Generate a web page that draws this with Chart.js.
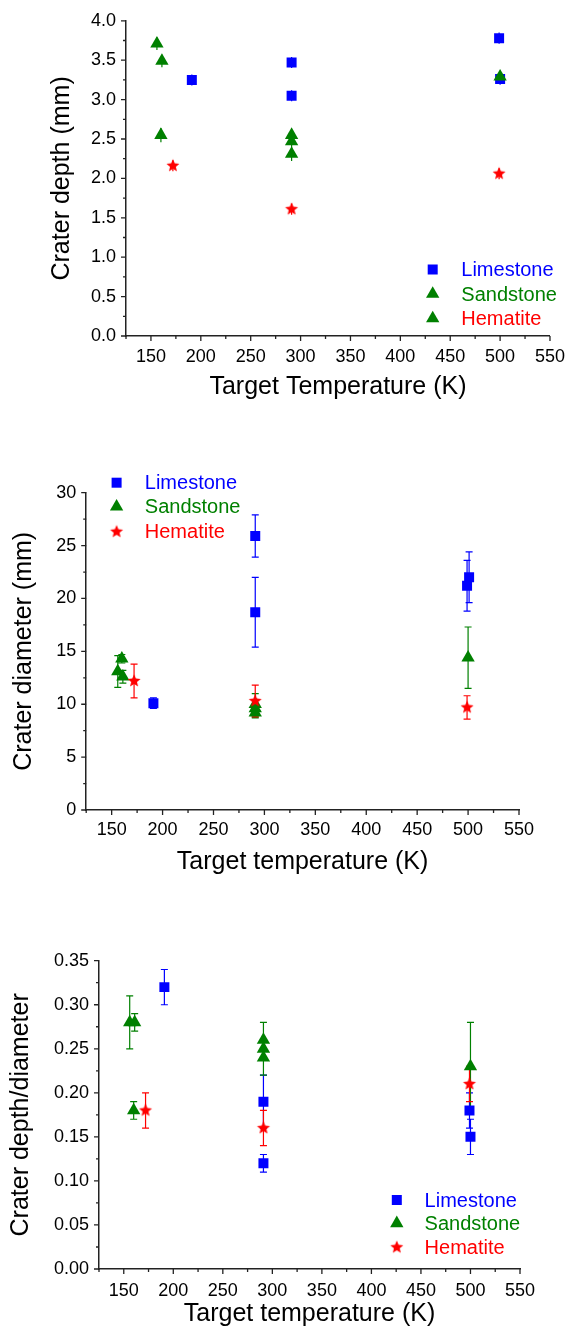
<!DOCTYPE html>
<html>
<head>
<meta charset="utf-8">
<script src="https://cdn.jsdelivr.net/npm/chart.js@4"></script>
<style>
html, body { margin: 0; padding: 0; background: #fff; }
.box { position: absolute; left: 0; width: 575px; }
</style>
</head>
<body>
<div class="box" style="top:0;height:420px"><canvas id="depth" width="575" height="420"></canvas></div>
<div class="box" style="top:440px;height:440px"><canvas id="diam" width="575" height="440"></canvas></div>
<div class="box" style="top:900px;height:429px"><canvas id="ratio" width="575" height="429"></canvas></div>
<script>
var names = ['Limestone', 'Sandstone', 'Hematite'];
var colors = ['#0000ff', '#008000', '#ff0000'];
var tempTicks = [150, 200, 250, 300, 350, 400, 450, 500, 550];

// crater depth (mm)
var depthLimeT = [191, 291, 291, 499, 500];
var depthLime = [3.25, 3.47, 3.05, 3.78, 3.26];
var depthLimeErr = [0.07, 0.07, 0.07, 0.07, 0.07];
var depthSandT = [156, 161, 160, 291, 291, 291, 500];
var depthSand = [3.71, 3.49, 2.55, 2.55, 2.47, 2.31, 3.29];
var depthSandErr = [0.08, 0.08, 0.09, 0.08, 0.08, 0.09, 0.06];
var depthHemT = [172, 291, 499];
var depthHem = [2.16, 1.61, 2.06];
var depthHemErr = [0.07, 0.07, 0.07];
var depthTicks = [0, 0.5, 1, 1.5, 2, 2.5, 3, 3.5, 4];

// crater diameter (mm)
var diamLimeT = [191, 291, 291, 499, 501];
var diamLime = [10.1, 25.9, 18.7, 21.2, 22.0];
var diamLimeErr = [0.5, 2.0, 3.3, 2.4, 2.4];
var diamSandT = [156, 160, 161, 291, 291, 291, 500];
var diamSand = [13.1, 14.3, 12.6, 10.0, 9.6, 9.2, 14.4];
var diamSandErr = [1.5, 0.4, 0.6, 1.0, 0.8, 0.5, 2.9];
var diamHemT = [172, 291, 499];
var diamHem = [12.2, 10.3, 9.7];
var diamHemErr = [1.6, 1.5, 1.1];
var diamTicks = [0, 5, 10, 15, 20, 25, 30];

// crater depth / diameter
var ratioLimeT = [191, 291, 291, 499, 500];
var ratioLime = [0.32, 0.19, 0.12, 0.18, 0.15];
var ratioLimeErr = [0.02, 0.03, 0.01, 0.02, 0.02];
var ratioSandT = [156, 161, 160, 291, 291, 291, 500];
var ratioSand = [0.28, 0.28, 0.18, 0.26, 0.25, 0.24, 0.23];
var ratioSandErr = [0.03, 0.01, 0.01, 0.02, 0.01, 0.02, 0.05];
var ratioHemT = [172, 291, 499];
var ratioHem = [0.18, 0.16, 0.21];
var ratioHemErr = [0.02, 0.02, 0.02];
var ratioTicks = [0, 0.05, 0.10, 0.15, 0.20, 0.25, 0.30, 0.35];

var FONT = '"Liberation Sans", Arial, Helvetica, sans-serif';
Chart.defaults.font.family = FONT;
Chart.defaults.color = '#000';

function starImage(r) {
    var c = document.createElement('canvas');
    var s = Math.ceil(r * 2 + 2);
    c.width = s;
    c.height = s;
    var g = c.getContext('2d');
    g.fillStyle = colors[2];
    g.beginPath();
    for (var i = 0; i < 10; i++) {
        var rr = i % 2 ? r * 0.45 : r;
        var a = -Math.PI / 2 + i * Math.PI / 5;
        g.lineTo(s / 2 + rr * Math.cos(a), s / 2 + rr * Math.sin(a));
    }
    g.closePath();
    g.fill();
    return c;
}
var star = starImage(6.8);

function pairs(xs, ys) {
    return xs.map(function (x, i) { return {x: x, y: ys[i]}; });
}

function drawMarker(ctx, kind, x, y) {
    if (kind === 'rect') {
        ctx.fillStyle = colors[0];
        ctx.fillRect(x - 5, y - 5, 10, 10);
    } else if (kind === 'triangle') {
        var r = 7.7;
        ctx.fillStyle = colors[1];
        ctx.beginPath();
        ctx.moveTo(x, y - r);
        ctx.lineTo(x + r * 0.866, y + r / 2);
        ctx.lineTo(x - r * 0.866, y + r / 2);
        ctx.closePath();
        ctx.fill();
    } else {
        ctx.drawImage(star, x - star.width / 2, y - star.height / 2);
    }
}

// vertical error bars, drawn under the markers
var errorBars = {
    id: 'errorBars',
    beforeDatasetsDraw: function (chart, args, opts) {
        var ctx = chart.ctx, yScale = chart.scales.y;
        chart.data.datasets.forEach(function (ds, i) {
            if (!ds.errors) return;
            var meta = chart.getDatasetMeta(i);
            ctx.save();
            ctx.strokeStyle = ds.borderColor;
            ctx.lineWidth = 1.2;
            ctx.beginPath();
            meta.data.forEach(function (pt, j) {
                var v = ds.data[j].y, e = ds.errors[j];
                var top = yScale.getPixelForValue(v + e);
                var bot = yScale.getPixelForValue(v - e);
                ctx.moveTo(pt.x, top);
                ctx.lineTo(pt.x, bot);
                if (opts.cap) {
                    ctx.moveTo(pt.x - opts.cap, top);
                    ctx.lineTo(pt.x + opts.cap, top);
                    ctx.moveTo(pt.x - opts.cap, bot);
                    ctx.lineTo(pt.x + opts.cap, bot);
                }
            });
            ctx.stroke();
            ctx.restore();
        });
    }
};

// major + minor outward tick marks
var axisTicks = {
    id: 'axisTicks',
    afterDraw: function (chart, args, opts) {
        var ctx = chart.ctx, xs = chart.scales.x, ys = chart.scales.y, a = chart.chartArea;
        function isMajor(v, step) {
            var q = v / step;
            return Math.abs(q - Math.round(q)) < 1e-6;
        }
        ctx.save();
        ctx.strokeStyle = '#222';
        ctx.lineWidth = 1.3;
        ctx.beginPath();
        var k, v, p;
        for (k = Math.ceil(xs.min / opts.xMinor - 1e-6); k * opts.xMinor <= xs.max + 1e-6; k++) {
            v = k * opts.xMinor;
            p = xs.getPixelForValue(v);
            ctx.moveTo(p, a.bottom);
            ctx.lineTo(p, a.bottom + (isMajor(v, opts.xMajor) ? 5 : 3));
        }
        for (k = Math.ceil(ys.min / opts.yMinor - 1e-6); k * opts.yMinor <= ys.max + 1e-6; k++) {
            v = k * opts.yMinor;
            p = ys.getPixelForValue(v);
            ctx.moveTo(a.left, p);
            ctx.lineTo(a.left - (isMajor(v, opts.yMajor) ? 5 : 3), p);
        }
        ctx.stroke();
        ctx.restore();
    }
};

var innerLegend = {
    id: 'innerLegend',
    afterDraw: function (chart, args, opts) {
        var ctx = chart.ctx;
        ctx.save();
        ctx.font = '20px ' + FONT;
        ctx.textBaseline = 'middle';
        names.forEach(function (name, i) {
            var y = opts.rows[i];
            drawMarker(ctx, opts.marks[i], opts.x, y);
            ctx.fillStyle = colors[i];
            ctx.fillText(name, opts.textX, y + 1);
        });
        ctx.restore();
    }
};

function makeChart(id, cfg) {
    var sets = cfg.series.map(function (s, i) {
        return {
            label: names[i],
            data: pairs(s[0], s[1]),
            errors: s[2],
            order: 3 - i,
            pointStyle: i === 0 ? 'rect' : (i === 1 ? 'triangle' : star),
            pointRadius: i === 0 ? 7.07 : 7.7,
            borderWidth: 0,
            backgroundColor: colors[i],
            borderColor: colors[i],
            showLine: false
        };
    });
    return new Chart(document.getElementById(id), {
        type: 'scatter',
        data: {datasets: sets},
        plugins: [errorBars, axisTicks, innerLegend],
        options: {
            responsive: false,
            animation: false,
            events: [],
            layout: {padding: {top: cfg.top, right: cfg.right, left: 0, bottom: 0}},
            plugins: {
                legend: {display: false},
                tooltip: {enabled: false},
                errorBars: {cap: cfg.cap},
                axisTicks: {xMinor: 25, xMajor: 50, yMinor: cfg.yStep / 2, yMajor: cfg.yStep},
                innerLegend: cfg.legend
            },
            scales: {
                x: {
                    type: 'linear',
                    position: 'bottom',
                    min: 125,
                    max: 550,
                    afterBuildTicks: function (scale) {
                        scale.ticks = tempTicks.map(function (v) { return {value: v}; });
                    },
                    afterFit: function (scale) { scale.height = cfg.xHeight; },
                    ticks: {font: {size: 18}, padding: cfg.xPad, autoSkip: false, maxRotation: 0},
                    grid: {drawOnChartArea: false, drawTicks: false},
                    border: {display: true, color: '#222', width: 1.5},
                    title: {display: true, text: cfg.xTitle, font: {size: 25}, padding: {top: 0, bottom: cfg.xTitlePad}}
                },
                y: {
                    type: 'linear',
                    min: cfg.yTicks[0],
                    max: cfg.yTicks[cfg.yTicks.length - 1],
                    afterBuildTicks: function (scale) {
                        scale.ticks = cfg.yTicks.map(function (v) { return {value: v}; });
                    },
                    afterFit: function (scale) { scale.width = cfg.yWidth; },
                    ticks: {
                        font: {size: 18},
                        padding: 10,
                        autoSkip: false,
                        callback: function (v) { return v.toFixed(cfg.decimals); }
                    },
                    grid: {drawOnChartArea: false, drawTicks: false},
                    border: {display: true, color: '#222', width: 1.5},
                    title: {display: true, text: cfg.yTitle, font: {size: 25}, padding: {top: cfg.yTitlePad, bottom: 0}}
                }
            }
        }
    });
}

makeChart('depth', {
    series: [[depthLimeT, depthLime, depthLimeErr], [depthSandT, depthSand, depthSandErr], [depthHemT, depthHem, depthHemErr]],
    yTicks: depthTicks, yStep: 0.5, decimals: 1,
    top: 20, right: 17.6, yWidth: 126, xHeight: 84, xPad: 10,
    xTitle: 'Target Temperature (K)', xTitlePad: 18,
    yTitle: 'Crater depth (mm)', yTitlePad: 47,
    cap: 0,
    legend: {x: 432.7, textX: 461.3, rows: [269.5, 294, 318.5], marks: ['rect', 'triangle', 'triangle']}
});

makeChart('diam', {
    series: [[diamLimeT, diamLime, diamLimeErr], [diamSandT, diamSand, diamSandErr], [diamHemT, diamHem, diamHemErr]],
    yTicks: diamTicks, yStep: 5, decimals: 0,
    top: 52.7, right: 56, yWidth: 86.2, xHeight: 70, xPad: 9,
    xTitle: 'Target temperature (K)', xTitlePad: 3,
    yTitle: 'Crater diameter (mm)', yTitlePad: 9.6,
    cap: 3.5,
    legend: {x: 116.6, textX: 144.8, rows: [42.7, 66.7, 91.7], marks: ['rect', 'triangle', 'star']}
});

makeChart('ratio', {
    series: [[ratioLimeT, ratioLime, ratioLimeErr], [ratioSandT, ratioSand, ratioSandErr], [ratioHemT, ratioHem, ratioHemErr]],
    yTicks: ratioTicks, yStep: 0.05, decimals: 2,
    top: 60.7, right: 55, yWidth: 99, xHeight: 60, xPad: 11,
    xTitle: 'Target temperature (K)', xTitlePad: 0,
    yTitle: 'Crater depth/diameter', yTitlePad: 6.6,
    cap: 3.5,
    legend: {x: 396.8, textX: 424.6, rows: [300, 323.3, 347.3], marks: ['rect', 'triangle', 'star']}
});
</script>
</body>
</html>
